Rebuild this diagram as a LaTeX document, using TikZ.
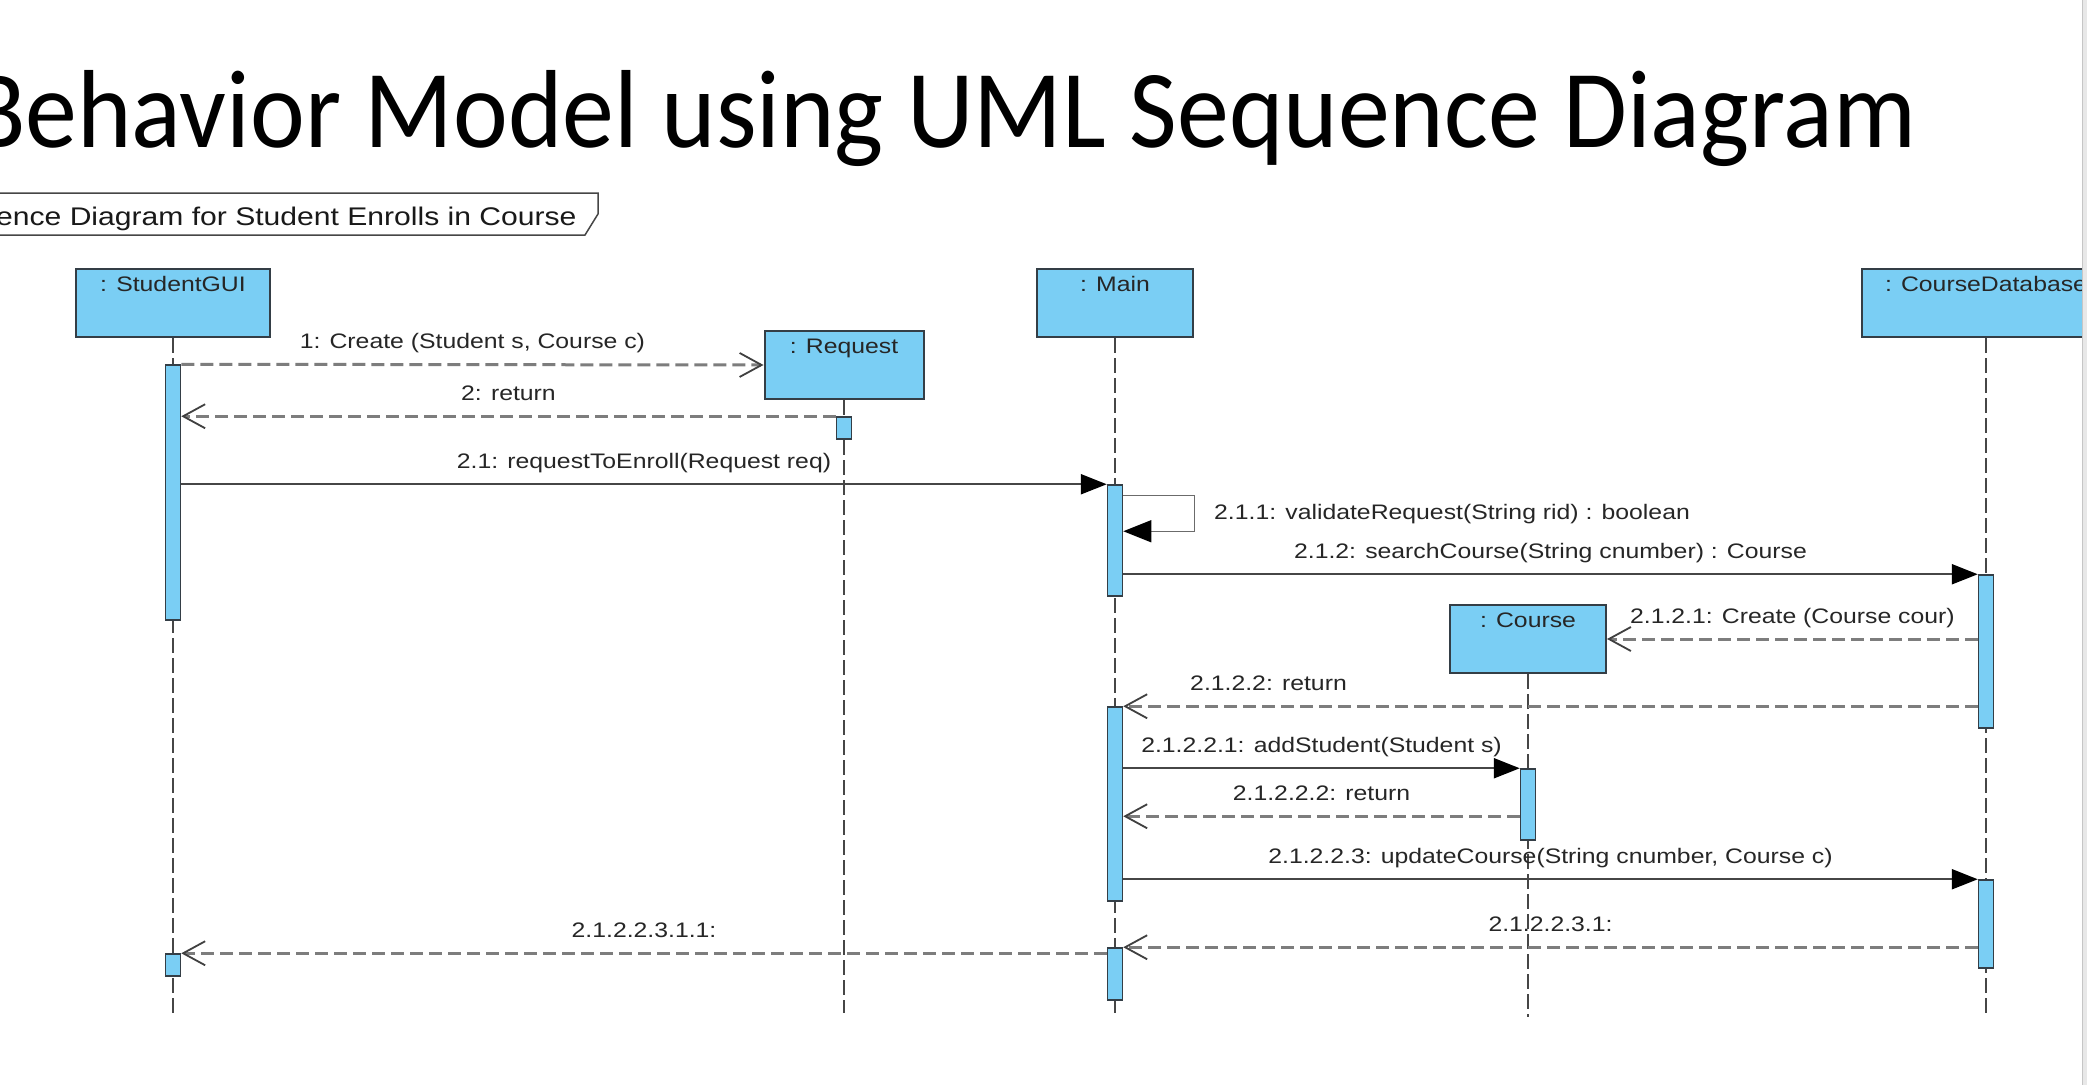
\documentclass[tikz,border=0pt]{standalone}
\usepackage{fontspec}
\setmainfont{Liberation Sans}
\newfontfamily\titlefont[FakeStretch=0.935]{Carlito}
\newfontfamily\umlfont[FakeStretch=1.18]{Liberation Sans}
\usetikzlibrary{arrows.meta,calc}

\definecolor{umlblue}{RGB}{122,206,244}
\definecolor{umlframe}{RGB}{52,62,70}
\definecolor{umlline}{RGB}{70,70,70}
\definecolor{umldash}{RGB}{125,125,125}

\tikzset{
  lifebox/.style={draw=umlframe, fill=umlblue, line width=2pt, minimum height=68pt,
    inner sep=0pt, text height=22.5pt, text depth=45.5pt, text=black!85,
    font=\umlfont\fontsize{21}{25}\selectfont},
  actbar/.style={draw=umlframe, fill=umlblue, line width=1.5pt, minimum width=15pt, inner sep=0pt},
  lifeline/.style={draw=umlline, line width=1.6pt, dash pattern=on 15pt off 5pt},
  call/.style={draw=umlline, line width=2.2pt, -{Triangle[length=26pt,width=20pt,color=black]}},
  selfcall/.style={draw=umlline!80, line width=1.5pt, -{Triangle[length=28pt,width=22pt,color=black]}},
  dashmsg/.style={draw=umldash, line width=3pt, dash pattern=on 13pt off 6pt,
    -{Straight Barb[length=22pt,width=24pt,line width=1.8pt,color=black!75]}},
  msgfont/.style={font=\umlfont\fontsize{21}{25}\selectfont, inner sep=0pt, text=black!85},
  msglbl/.style={msgfont, anchor=base, yshift=16pt},
}

\begin{document}
\begin{tikzpicture}[x=1pt, y=-1pt]

% Page
\fill[white] (0,0) rectangle (2087,1084);
\useasboundingbox (0,0) rectangle (2087,1084);

% Title
\node[anchor=base west, inner sep=0pt, font=\titlefont\fontsize{111}{130}\selectfont]
  (title) at (-31,147) {Behavior Model using UML Sequence Diagram};

% Frame label
\draw[umlline, line width=1.5pt] (-10,193) -- (598,193) -- (598,214) -- (585,235) -- (-10,235);
\node[anchor=base west, inner sep=0pt, text=black!90, font=\umlfont\fontsize{25.5}{30}\selectfont]
  (frametitle) at (-4,225) {ence Diagram for Student Enrolls in Course};

\begin{scope}
\clip (-50,-50) rectangle (2082,1100);

% Objects
\node[lifebox, minimum width=194pt] (gui) at (173,303) {: StudentGUI};
\node[lifebox, minimum width=159pt] (req) at (844,365) {: Request};
\node[lifebox, minimum width=156pt] (main) at (1115,303) {: Main};
\node[lifebox, minimum width=156pt] (course) at (1528,639) {: Course};
\node[lifebox, minimum width=248pt] (cdb) at (1986,303) {: CourseDatabase};

% Lifelines
\coordinate (bottom) at (0,1013);
\draw[lifeline] (gui.south) -- (gui.south |- bottom);
\draw[lifeline] (req.south) -- (req.south |- bottom);
\draw[lifeline] (main.south) -- (main.south |- bottom);
\draw[lifeline] (course.south) -- ($(course.south |- bottom)+(0,4)$);
\draw[lifeline] (cdb.south) -- (cdb.south |- bottom);

% Activation bars
\node[actbar, minimum height=255pt] (gui1) at (173,492.5) {};
\node[actbar, minimum height=22pt] (gui2) at (173,965) {};
\node[actbar, minimum height=22pt] (reqbar) at (844,428) {};
\node[actbar, minimum height=111pt] (main1) at (1115,540.5) {};
\node[actbar, minimum height=194pt] (main2) at (1115,804) {};
\node[actbar, minimum height=52pt] (main3) at (1115,974) {};
\node[actbar, minimum height=71pt] (crsbar) at (1528,804.5) {};
\node[actbar, minimum height=153pt] (cdb1) at (1986,651.5) {};
\node[actbar, minimum height=88pt] (cdb2) at (1986,924) {};

% Messages
\draw[dashmsg] (gui1.north east) -- (req.west)
  node[msglbl, midway] {1: Create (Student s, Course c)};
\draw[dashmsg] (reqbar.north west) -- (reqbar.north west -| gui1.east)
  node[msglbl, midway] {2: return};
\draw[call] (main1.north west -| gui1.east) -- (main1.north west)
  node[msglbl, midway] {2.1: requestToEnroll(Request req)};

% Self call
\draw[selfcall] ($(main1.north east)+(0,11)$) -- ++(71,0) -- ++(0,36)
  -- ($(main1.north east)+(0,47)$);
\node[msgfont, anchor=base west] (selflbl) at (1214,519)
  {2.1.1: validateRequest(String rid) : boolean};

\draw[call] (cdb1.north west -| main1.east) -- (cdb1.north west)
  node[msglbl, midway] {2.1.2: searchCourse(String cnumber) : Course};
\draw[dashmsg] (course.east -| cdb1.west) -- (course.east)
  node[msglbl, midway] {2.1.2.1: Create (Course cour)};
\draw[dashmsg] (main2.north east -| cdb1.west) -- (main2.north east)
  node[msglbl, pos=0.83] {2.1.2.2: return};
\draw[call] (crsbar.north west -| main2.east) -- (crsbar.north west)
  node[msglbl, midway] {2.1.2.2.1: addStudent(Student s)};
\coordinate (ret) at ($(crsbar.north west)+(0,48)$);
\draw[dashmsg] (ret) -- (ret -| main2.east)
  node[msglbl, midway] {2.1.2.2.2: return};
\draw[call] (cdb2.north west -| main2.east) -- (cdb2.north west)
  node[msglbl, midway] {2.1.2.2.3: updateCourse(String cnumber, Course c)};
\draw[dashmsg] (main3.north east -| cdb2.west) -- (main3.north east)
  node[msglbl, midway] {2.1.2.2.3.1:};
\draw[dashmsg] (gui2.north east -| main3.west) -- (gui2.north east)
  node[msglbl, midway] {2.1.2.2.3.1.1:};

\end{scope}

% Slide edge
\fill[gray!18] (2082,-5) rectangle (2095,1090);
\draw[gray!45, line width=1pt] (2082,-5) -- (2082,1090);

\end{tikzpicture}
\end{document}
